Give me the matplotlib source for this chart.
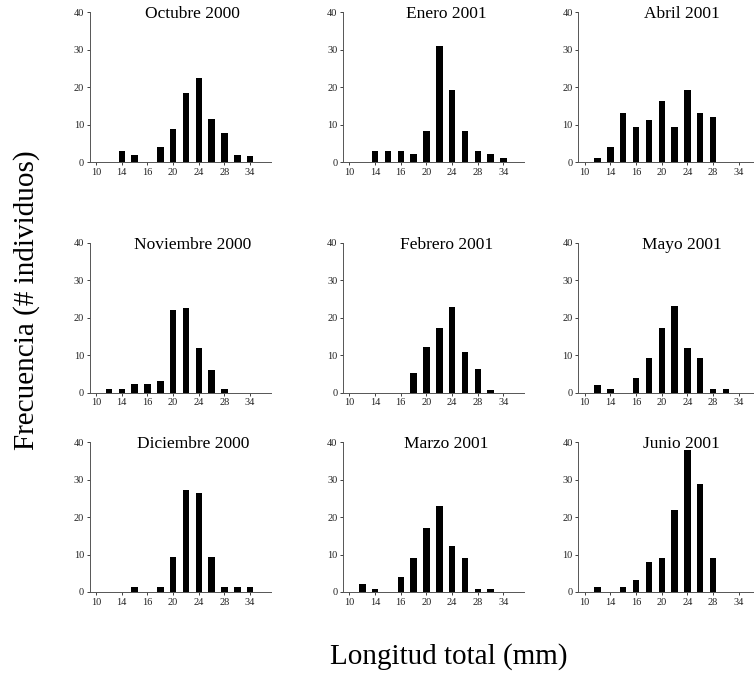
import numpy as np
import matplotlib.pyplot as plt

plt.rcParams['font.family'] = ['Liberation Serif', 'DejaVu Serif']

# clases de talla (posiciones de 0 a 12), solo algunas llevan etiqueta
clases = np.arange(13)
pos_etiquetas = [0, 2, 4, 6, 8, 10, 12]
etiquetas = ['10', '14', '16', '20', '24', '28', '34']

titulos = ['Octubre 2000', 'Enero 2001', 'Abril 2001',
           'Noviembre 2000', 'Febrero 2001', 'Mayo 2001',
           'Diciembre 2000', 'Marzo 2001', 'Junio 2001']

octubre = [0, 0, 3, 2, 0, 4, 8.8, 18.5, 22.5, 11.5, 7.7, 1.8, 1.5]
enero = [0, 0, 3, 3, 3, 2.2, 8.4, 31, 19.3, 8.4, 3, 2.2, 1]
abril = [0, 1, 4.1, 13, 9.3, 11.3, 16.2, 9.3, 19.3, 13, 12, 0, 0]
noviembre = [0, 1.1, 1.1, 2.3, 2.3, 3.1, 22, 22.7, 12.1, 6.1, 1.1, 0, 0]
febrero = [0, 0, 0, 0, 0, 5.2, 12.3, 17.3, 23, 11, 6.4, 0.8, 0]
mayo = [0, 2.1, 1, 0, 4, 9.2, 17.4, 23.2, 11.9, 9.2, 1, 1, 0]
diciembre = [0, 0, 0, 1.2, 0, 1.2, 9.3, 27.3, 26.3, 9.3, 1.2, 1.2, 1.2]
marzo = [0, 2, 0.9, 0, 4, 9, 17.1, 23, 12.2, 9, 0.9, 0.9, 0]
junio = [0, 1.3, 0, 1.3, 3.3, 7.9, 9.2, 22, 38, 28.8, 9.2, 0, 0]

datos = [octubre, enero, abril, noviembre, febrero, mayo, diciembre, marzo, junio]

fig = plt.figure(figsize=(7.54, 6.75), dpi=100)

izq = [0.119, 0.455, 0.767]
abajo = [0.760, 0.418, 0.123]
ancho = 0.240
alto = 0.222

for i in range(9):
    fila, col = divmod(i, 3)
    ax = fig.add_axes([izq[col], abajo[fila], ancho, alto])
    ax.bar(clases, datos[i], width=0.5, color='black')
    ax.set_xlim(-0.5, 13.6)
    ax.set_ylim(0, 40)
    ax.set_yticks([0, 10, 20, 30, 40])
    ax.set_xticks(pos_etiquetas)
    ax.set_xticklabels(etiquetas)
    ax.tick_params(labelsize=7.5, length=2.5, width=0.6, pad=1.5, colors='#222222')
    for lado in ['top', 'right']:
        ax.spines[lado].set_visible(False)
    for lado in ['left', 'bottom']:
        ax.spines[lado].set_linewidth(0.7)
        ax.spines[lado].set_color('#555555')
    ax.text(0.57, 0.985, titulos[i], transform=ax.transAxes, ha='center', va='center',
            fontsize=12.5)

fig.text(0.035, 0.555, 'Frecuencia (# individuos)', rotation=90, ha='center', va='center',
         fontsize=21)
fig.text(0.595, 0.028, 'Longitud total (mm)', ha='center', va='center', fontsize=21)

fig.savefig('out.png', dpi=100)
